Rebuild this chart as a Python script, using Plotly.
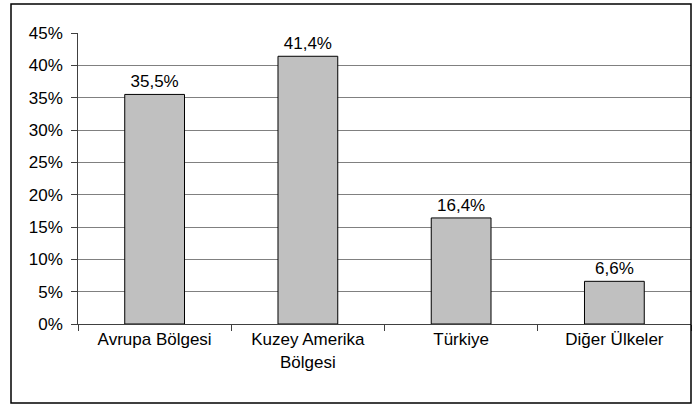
import plotly.graph_objects as go

# data
regions = ["Avrupa Bölgesi", "Kuzey Amerika<br>Bölgesi", "Türkiye", "Diğer Ülkeler"]
shares = [35.5, 41.4, 16.4, 6.6]
y_ticks = [0, 5, 10, 15, 20, 25, 30, 35, 40, 45]

labels = ["{:.1f}%".format(v).replace(".", ",") for v in shares]
y_text = ["{}%\u00a0".format(t) for t in y_ticks]  # nbsp pushes labels off the ticks a bit

W, H = 694, 406
ml, mr, mt, mb = 78, 3, 33, 82
pw, ph = W - ml - mr, H - mt - mb

fig = go.Figure()
fig.add_trace(go.Bar(
    x=regions, y=shares, text=labels, textposition="outside",
    textfont=dict(size=17, color="black"),
    marker=dict(color="#C0C0C0", line=dict(color="black", width=1)),
    width=0.39, cliponaxis=False,
))

#outer frame of the chart, in paper coords
fig.add_shape(type="rect", xref="paper", yref="paper",
              x0=(11 - ml) / pw, x1=1.0,
              y0=(ph + mt - 403) / ph, y1=(ph + mt - 4) / ph,
              line=dict(color="black", width=1.5), fillcolor="rgba(0,0,0,0)")

fig.update_layout(
    width=W, height=H,
    margin=dict(l=ml, r=mr, t=mt, b=mb),
    paper_bgcolor="white", plot_bgcolor="white",
    font=dict(family="Liberation Sans, Arial", size=17, color="black"),
    showlegend=False,
)
fig.update_yaxes(range=[0, 45], tickvals=y_ticks, ticktext=y_text,
                 showgrid=True, gridcolor="#808080", gridwidth=1,
                 showline=True, linecolor="#404040", linewidth=1,
                 ticks="outside", ticklen=6, tickcolor="#404040",
                 zeroline=False)
fig.update_xaxes(showline=True, linecolor="#404040", linewidth=1,
                 ticks="outside", ticklen=6, tickcolor="#404040",
                 tickson="boundaries", showgrid=False)

fig.write_html("out.html", config={"displayModeBar": False},
               post_script="document.body.style.margin='0';")
